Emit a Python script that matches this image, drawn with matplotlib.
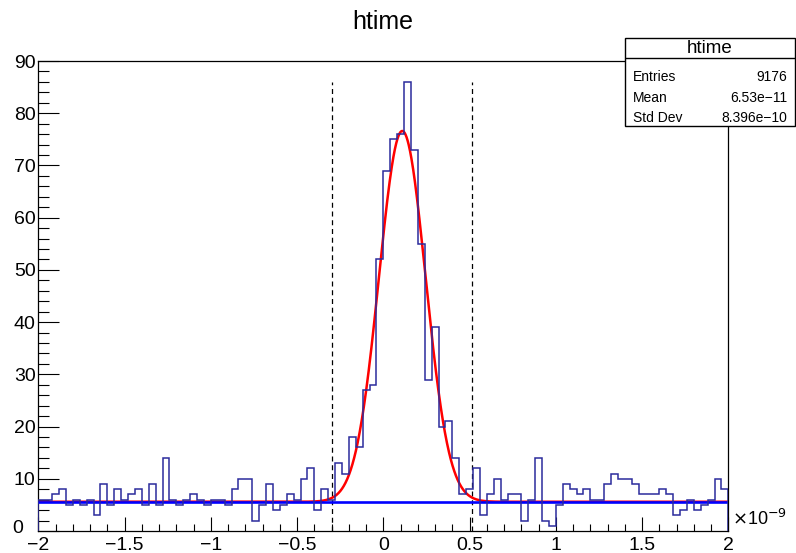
import numpy as np
import matplotlib
matplotlib.use('Agg')
import matplotlib.pyplot as plt
from matplotlib.patches import Rectangle
from matplotlib.ticker import MultipleLocator

plt.rcParams['font.family'] = ['Liberation Sans', 'DejaVu Sans']

# histogram htime: 100 bins from -2 to 2 (x 1e-9)
x_lo, x_hi, n_bins = -2.0, 2.0, 100
counts = [6, 6, 7, 8, 5, 6, 5, 6, 3, 9,
          5, 8, 6, 7, 8, 5, 9, 5, 14, 6,
          5, 6, 7, 6, 5, 6, 6, 5, 8, 10,
          10, 2, 5, 9, 4, 5, 7, 6, 10, 12,
          4, 8, 6, 13, 11, 18, 16, 27, 28, 52,
          69, 75, 76, 86, 73, 55, 29, 39, 20, 21,
          14, 7, 8, 12, 3, 7, 10, 6, 7, 7,
          2, 6, 14, 2, 1, 5, 9, 8, 7, 8,
          6, 6, 9, 11, 10, 10, 9, 7, 7, 7,
          8, 7, 3, 4, 6, 4, 5, 6, 10, 8]

# fit: gaus + pol0
fit_const = 5.6
fit_amp = 71.0
fit_mean = 0.11
fit_sigma = 0.135
cut_lo, cut_hi = -0.295, 0.514

x_ticks = [-2, -1.5, -1, -0.5, 0, 0.5, 1, 1.5, 2]
x_ticklabels = ['\u22122', '\u22121.5', '\u22121', '\u22120.5', '0', '0.5', '1', '1.5', '2']
y_ticks = [0, 10, 20, 30, 40, 50, 60, 70, 80, 90]

stats_labels = ['Entries', 'Mean', 'Std Dev']
stats_values = ['9176', '6.53e\u221211', '8.396e\u221210']

edges = np.linspace(x_lo, x_hi, n_bins + 1)

fig = plt.figure(figsize=(7.96, 5.53), dpi=100)
ax = fig.add_axes([38.3/796, 22/553, 690/796, 470/553])

xs = np.linspace(x_lo, x_hi, 2000)
gaus = fit_const + fit_amp*np.exp(-0.5*((xs - fit_mean)/fit_sigma)**2)
ax.plot(xs, gaus, color='#ff0000', lw=1.8, zorder=2)
ax.plot([x_lo, x_hi], [fit_const, fit_const], color='#0000ff', lw=1.9, zorder=3)
ax.stairs(counts, edges, color='#2b2b9c', lw=1.1, zorder=4)

ymax_cut = max(counts)
for xc in (cut_lo, cut_hi):
    ax.plot([xc, xc], [0, ymax_cut], color='black', lw=0.9, ls=(0, (4, 3)), zorder=1)

ax.set_xlim(x_lo, x_hi)
ax.set_ylim(0, 90)
ax.set_xticks(x_ticks)
ax.set_xticklabels(x_ticklabels)
ax.set_yticks(y_ticks)
# the "0" on y is drawn by hand a little to the left, clear of "-2"
ax.set_yticklabels([''] + [str(v) for v in y_ticks[1:]])
ax.xaxis.set_minor_locator(MultipleLocator(0.1))
ax.yaxis.set_minor_locator(MultipleLocator(2))
ax.tick_params(axis='both', which='both', direction='in', top=False, right=False, labelsize=14)
ax.tick_params(axis='y', which='major', length=15, width=0.8, pad=2)
ax.tick_params(axis='y', which='minor', length=8, width=0.8)
ax.tick_params(axis='x', which='major', length=10, width=0.8, pad=4)
ax.tick_params(axis='x', which='minor', length=5, width=0.8)
for s in ax.spines.values():
    s.set_linewidth(0.9)

ax.text(-0.022, 0.006, str(y_ticks[0]), transform=ax.transAxes, fontsize=14,
        ha='right', va='center')

ax.text(1.006, 0.005, r'$\times$10$^{-9}$', transform=ax.transAxes, fontsize=13,
        ha='left', va='bottom')

fig.text(383/796, 1 - 22/553, 'htime', ha='center', va='center', fontsize=18)

# stats box
sb = fig.add_axes([625/796, 1 - 126/553, 170/796, 88/553])
sb.set_xlim(0, 1)
sb.set_ylim(0, 1)
sb.axis('off')
sb.add_patch(Rectangle((0, 0), 1, 1, facecolor='white', edgecolor='black', lw=1.0, clip_on=False))
sb.plot([0, 1], [0.77, 0.77], color='black', lw=1.0)
sb.text(0.5, 0.885, 'htime', ha='center', va='center', fontsize=13.5)
rows_y = [0.56, 0.32, 0.09]
for lab, val, ry in zip(stats_labels, stats_values, rows_y):
    sb.text(0.045, ry, lab, ha='left', va='center', fontsize=10)
    sb.text(0.955, ry, val, ha='right', va='center', fontsize=10)

fig.savefig('out.png', dpi=100)
